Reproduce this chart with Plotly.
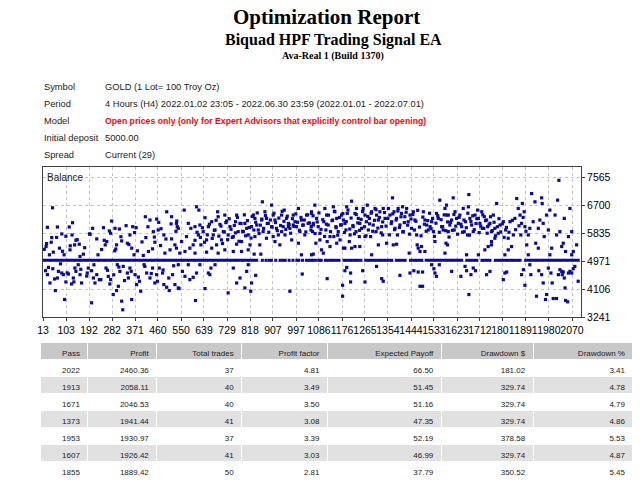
import plotly.graph_objects as go

# the page body keeps its default 8px margin, so the figure is drawn 8px smaller
OFF = 8
W, H = 640 - OFF, 480 - OFF

# header / report info
TITLE = "Optimization Report"
EA_NAME = "Biquad HPF Trading Signal EA"
SERVER = "Ava-Real 1 (Build 1370)"
info_labels = ["Symbol", "Period", "Model", "Initial deposit", "Spread"]
info_values = [
    "GOLD (1 Lot= 100 Troy Oz)",
    "4 Hours (H4) 2022.01.02 23:05 - 2022.06.30 23:59 (2022.01.01 - 2022.07.01)",
    "Open prices only (only for Expert Advisors that explicitly control bar opening)",
    "5000.00",
    "Current (29)",
]

# balance per optimisation pass
pass_a_hi = [50, 30, 69, 128, 115, 47, 27, 25, 86, 102, 126, 141, 136, 154, 170, 157, 118, 95, 77, 53,
             38, 206, 196, 248, 222, 280, 293, 310, 276, 261, 241, 255, 299, 319, 292, 336, 362, 375, 351, 341,
             358, 380, 367, 411, 429, 455, 463, 413, 442, 461, 448, 470, 439, 423, 403, 494, 513, 533, 535, 483,
             513, 526, 507, 487]
bal_a_hi = [6628, 6023, 6033, 6166, 6033, 5704, 5519, 5427, 5817, 5745, 5786, 5622, 5478, 5499, 5191, 5119, 5324, 5170, 5376, 5252,
            5170, 5992, 5807, 6012, 5663, 6218, 5992, 5971, 5838, 5581, 5335, 5478, 5478, 5601, 5293, 6074, 6043, 6012, 5786, 5530,
            5376, 5293, 5170, 6351, 6249, 6279, 6177, 5704, 5889, 5940, 5560, 5458, 5355, 5273, 5150, 6505, 6351, 6218, 6043, 5786,
            5663, 5478, 5324, 5222]
pass_a_lo = [23, 30, 40, 61, 51, 73, 86, 92, 69, 102, 112, 124, 131, 141, 150, 157, 163, 97, 137, 189,
             185, 202, 209, 222, 232, 215, 202, 258, 267, 273, 276, 286, 299, 306, 302, 312, 325, 319, 323, 341,
             351, 345, 358, 371, 377, 388, 393, 406, 416, 429, 439, 448, 455, 465, 478, 483, 494, 504, 517, 526, 539]
bal_a_lo = [4677, 4554, 4297, 4061, 4739, 4657, 4605, 4554, 4451, 4328, 4574, 4266, 4451, 4657, 4862, 4554, 4297, 3784, 4759, 4759,
            4605, 4677, 4451, 4554, 4400, 4297, 3681, 4759, 4502, 4266, 4400, 3938, 4061, 4194, 4862, 4657, 4811, 3732, 3465, 4605,
            4759, 4451, 3784, 4554, 4246, 4349, 4040, 4862, 4605, 4451, 4759, 4297, 4554, 4759, 4605, 4246, 4164, 4061, 4554, 4246, 4143]
pass_a_mid = [18, 34, 45, 58, 66, 81, 89, 107, 119, 133, 146, 160, 175, 183, 194, 211, 227, 238, 251, 264,
              271, 288, 296, 308, 316, 330, 347, 356, 369, 384, 398, 409, 421, 434, 446, 458, 472, 480, 491, 502,
              511, 521, 530]
bal_a_mid = [5340, 4780, 5560, 4420, 5710, 4890, 5280, 4610, 5450, 4330, 5640, 4720, 5390, 4510, 5820, 4860, 5170, 4400, 5620, 4690,
             5910, 4550, 5350, 4790, 5730, 4370, 5490, 4660, 5860, 4480, 5570, 4810, 6040, 4590, 5720, 4350, 5980, 4700, 5660, 4450,
             6130, 4830, 5900]

pass_b_hi = [562, 610, 619, 532, 539, 578, 588, 571, 552, 604, 623, 643, 656, 636, 617, 597, 584, 627, 649, 669,
             682, 675, 692, 694, 701, 714, 707, 688, 720, 727, 740, 733, 753, 766, 762, 779, 772, 785, 766, 798,
             805, 792, 811, 831, 837, 824, 844, 850, 837, 818, 856, 866, 876, 882, 889, 863, 902, 908, 915, 902,
             921, 928, 908, 941, 951, 960, 967, 947, 973, 954, 980, 986, 993, 1006, 999, 1012, 1018, 1025, 1031, 1038,
             1044, 1057, 1055, 1064, 986, 967, 941, 1006, 934, 915, 882, 869, 811, 785, 753, 720, 694, 669, 649, 604,
             565, 545, 532, 1018, 1057, 834, 860]
bal_b_hi = [6557, 6659, 6557, 6146, 5992, 6146, 5992, 5735, 5581, 6043, 6094, 6320, 6043, 5889, 5786, 5478, 5376, 5478, 5632, 6197,
            5940, 5786, 6505, 6351, 6115, 5889, 5632, 5478, 6403, 6218, 6043, 5786, 5735, 6403, 6197, 6146, 5889, 5581, 5499, 6146,
            5992, 5889, 5786, 6403, 6300, 6043, 6094, 5940, 5735, 5478, 5478, 6813, 6505, 6300, 6146, 6249, 6711, 6403, 6249, 6043,
            5992, 5786, 5735, 6403, 6557, 6300, 6146, 6043, 5992, 5786, 5632, 6403, 6197, 6608, 6043, 5889, 6249, 6094, 5786, 6403,
            6146, 6505, 5940, 6094, 6094, 6043, 5889, 5530, 5478, 5581, 5684, 5889, 5324, 5273, 5273, 5324, 5222, 5376, 5252, 5222,
            5273, 5222, 5376, 5170, 5170, 5191, 5191]
pass_b_lo = [539, 555, 565, 584, 597, 610, 606, 578, 623, 542, 643, 656, 666, 662, 682, 733, 753, 766, 779, 798,
             805, 821, 824, 840, 811, 973, 1021]
bal_b_lo = [4862, 4657, 4503, 4400, 4472, 4605, 3753, 4862, 4862, 4123, 4123, 4605, 4759, 4554, 4862, 3989, 4759, 4297, 4451, 4143,
            4657, 4040, 4297, 4533, 4862, 4040, 4574]
pass_b_mid = [604, 612, 625, 633, 641, 652, 660, 671, 679, 686, 697, 705, 711, 718, 724, 731, 737, 744, 749, 757,
              761, 769, 775, 783, 789, 796, 801, 808, 815, 822, 827, 833, 840, 846, 853, 858, 864, 871, 878, 885,
              891, 897, 904, 911, 917, 924, 930, 937, 943, 950, 957, 963, 970, 976, 983, 989, 996, 1003, 1010, 1016,
              1023, 1029, 1035, 1042, 1049]
bal_b_mid = [5620, 5870, 5710, 6010, 5560, 5790, 6120, 5680, 5930, 6240, 5750, 6060, 5520, 5880, 6170, 5640, 6290, 5960, 5710, 6080,
             5850, 6330, 5590, 6140, 5900, 6410, 5760, 6230, 6020, 5690, 6360, 5940, 6180, 6470, 5830, 6090, 6280, 5990, 6390, 6140,
             5870, 6250, 6030, 6460, 6170, 5920, 6310, 6080, 6520, 6210, 5960, 6370, 6110, 5840, 6290, 6050, 6440, 6180, 5930, 6330,
             6090, 6250, 5880, 6410, 6160]

pass_c_hi = [1070, 1057, 1077, 1064, 1083, 1061, 1090, 1074, 1096, 1103, 1109, 1116, 1105, 1122, 1113, 1129, 1118, 1142, 1148, 1139,
             1155, 1152, 1161, 1144, 1168, 1174, 1181, 1187, 1170, 1194, 1196, 1191, 1181, 1207, 1213, 1219, 1204, 1226, 1232, 1239,
             1245, 1230, 1252, 1243, 1226, 1245, 1258, 1265, 1274, 1271, 1282, 1291, 1278, 1287, 1297, 1304, 1310, 1317, 1308, 1323,
             1330, 1336, 1343, 1334, 1349, 1356, 1362, 1372, 1369, 1378, 1382, 1388, 1394, 1391, 1401, 1407, 1414, 1411, 1420, 1427,
             1433, 1440, 1446, 1453, 1459, 1466, 1468, 1472, 1479, 1492, 1498, 1505, 1511, 1518, 1524, 1531, 1537, 1543, 1550, 1556,
             1563, 1569, 1576, 1583, 1589, 1580, 1485, 1498, 1375, 1388, 1291, 1317, 1265, 1213, 1187, 1155, 1129, 1090, 1064, 1437]
bal_c_hi = [6711, 6454, 6300, 6146, 6043, 5889, 5838, 5530, 5324, 5222, 6608, 6403, 6197, 6094, 5940, 5735, 5581, 6659, 6505, 6249,
            6300, 6043, 5889, 5735, 5632, 6403, 6249, 6146, 6094, 6659, 6454, 5940, 5376, 5786, 6834, 6043, 5581, 6454, 6608, 6300,
            6146, 5889, 5992, 5735, 5427, 5427, 6608, 6403, 6711, 6197, 6300, 6505, 5940, 5735, 6094, 6608, 6403, 6249, 5889, 6505,
            6043, 6608, 6300, 5786, 5530, 6608, 6403, 6937, 6197, 6505, 5992, 6300, 6608, 5786, 6094, 6454, 5889, 6659, 6351, 6608,
            6197, 6403, 5992, 6505, 6249, 5786, 5478, 5376, 5273, 6505, 6249, 6094, 5940, 6043, 6197, 5889, 5581, 6454, 6300, 6865,
            6043, 5940, 6608, 6403, 5889, 5530, 5427, 5273, 5478, 5499, 5170, 5478, 5735, 5376, 5376, 5530, 5427, 5632, 5191, 5222]
pass_c_lo = [1118, 1178, 1178, 1187, 1194, 1209, 1209, 1256, 1265, 1310, 1330, 1336, 1401, 1440, 1455, 1472, 1479, 1489, 1489, 1524,
             1533, 1537, 1543, 1554]
bal_c_lo = [4431, 4225, 3886, 4677, 4780, 4605, 4328, 4677, 4328, 4811, 4431, 4349, 4533, 4605, 4677, 4636, 4194, 4194, 4636, 4862,
            4739, 4605, 4503, 4862]
pass_c_mid = [1056, 1063, 1071, 1079, 1086, 1094, 1101, 1108, 1115, 1123, 1131, 1137, 1146, 1153, 1159, 1166, 1173, 1179, 1185, 1192,
              1199, 1206, 1211, 1218, 1224, 1231, 1237, 1244, 1250, 1256, 1263, 1269, 1276, 1283, 1289, 1295, 1302, 1308, 1315, 1321,
              1328, 1334, 1341, 1347, 1354, 1360, 1367, 1373, 1380, 1386, 1393, 1399, 1405, 1412, 1418, 1425, 1431, 1438, 1444, 1451,
              1457, 1463, 1470, 1477, 1483, 1490, 1496, 1503, 1509, 1516, 1522, 1528, 1535, 1541, 1548, 1554, 1561, 1567, 1573, 1579,
              1586, 1592]
bal_c_mid = [6050, 6380, 5830, 6190, 6470, 5960, 6260, 5740, 6120, 6400, 5890, 6230, 6520, 6010, 5780, 6330, 6100, 6450, 5860, 6200,
             6560, 5970, 6310, 6080, 5820, 6420, 6160, 5930, 6270, 6510, 6040, 5760, 6360, 6130, 6460, 5900, 6240, 6570, 6000, 6330,
             5850, 6190, 6480, 6060, 6300, 5790, 6140, 6440, 5950, 6250, 6530, 6020, 6350, 5880, 6170, 6490, 6090, 5810, 6280, 6420,
             5940, 6210, 6550, 6030, 5760, 6340, 6120, 5900, 6230, 6460, 5980, 6300, 5740, 6150, 6380, 5870, 6260, 6040, 6410, 5920,
             6190, 5720]

pass_d_hi = [1582, 1608, 1589, 1602, 1595, 1615, 1621, 1628, 1612, 1634, 1641, 1647, 1651, 1656, 1667, 1669, 1673, 1680, 1664, 1686,
             1693, 1703, 1706, 1712, 1719, 1721, 1729, 1738, 1742, 1751, 1757, 1764, 1770, 1777, 1783, 1790, 1744, 1757, 1770, 1803,
             1812, 1822, 1829, 1835, 1842, 1855, 1848, 1861, 1868, 1874, 1877, 1884, 1887, 1871, 1894, 1900, 1906, 1913, 1919, 1926,
             1929, 1939, 1945, 1952, 1958, 1954, 1962, 1971, 1978, 1984, 1991, 2004, 2010, 2014, 2019, 2023, 2030, 2040, 2045, 2056,
             2062, 2069, 2075, 2088, 2069, 1984, 1900, 1809, 1706, 1660, 1731, 1822, 1939, 2036, 1757, 1586, 1576]
bal_d_hi = [6711, 6937, 6403, 6249, 6094, 6505, 6300, 6146, 5940, 6403, 6043, 6608, 5889, 6197, 6659, 7039, 6300, 6094, 5786, 5889,
            6403, 6557, 6300, 6146, 6505, 5992, 6351, 6249, 6043, 6146, 5889, 6403, 5992, 6762, 5838, 6094, 5427, 5478, 5684, 6197,
            5940, 5684, 6197, 5427, 5786, 6916, 6300, 6608, 6403, 6146, 6762, 6505, 6043, 5786, 5478, 5786, 5992, 7070, 6197, 6813,
            5530, 5992, 6249, 6937, 6146, 6762, 5735, 6403, 5940, 6557, 5376, 6403, 5786, 6865, 7481, 5889, 5427, 6300, 5273, 5735,
            6608, 5889, 5273, 5478, 5170, 5170, 5170, 5170, 5170, 5170, 5324, 5324, 5376, 5530, 5581, 5478, 5222]
pass_d_lo = [1602, 1638, 1654, 1660, 1669, 1677, 1686, 1695, 1738, 1751, 1803, 1809, 1816, 1881, 1887, 1874, 1906, 1910, 1932, 1941,
             1952, 1958, 1967, 1971, 1978, 1988, 1993, 1997, 2010, 2017, 2023, 2030, 2032, 2036, 2040, 2043, 2045, 2053, 2056, 2062,
             2069, 2081, 2094, 2075]
bal_d_lo = [4657, 4503, 4811, 4677, 3938, 4554, 4759, 4677, 4554, 4657, 4400, 4605, 4636, 4708, 4225, 4554, 4862, 4554, 3886, 4677,
            4554, 4297, 3784, 3938, 4759, 4605, 4297, 3814, 3814, 4554, 4708, 4657, 4554, 4636, 4451, 4143, 3753, 3712, 4605, 4657,
            4605, 4811, 4349, 4739]
pass_d_mid = [1598, 1605, 1611, 1618, 1625, 1631, 1638, 1644, 1650, 1659, 1665, 1671, 1677, 1684, 1690, 1697, 1700, 1709, 1715, 1723,
              1727, 1734, 1740, 1747, 1753, 1760, 1767, 1773, 1780, 1786, 1793, 1799, 1806, 1815, 1825, 1838, 1851, 1864, 1880, 1891]
bal_d_mid = [6180, 5930, 6420, 6060, 5810, 6330, 6120, 5870, 6250, 6010, 6460, 5780, 6200, 6380, 5950, 6140, 6290, 5860, 6060, 6410,
             5990, 6230, 5840, 6100, 6350, 5920, 6180, 5760, 6040, 6290, 5880, 6130, 5710, 6020, 5870, 6240, 5950, 6070, 6330, 5900]

# passes that ended flat at the initial deposit
DEPOSIT = 5000
flat_runs = [(13, 850), (1105, 1170), (1178, 1255), (1262, 1375), (1381, 1427), (1436, 1492),
             (1497, 1647), (1655, 1706), (1714, 1757), (1766, 1874), (1884, 2100)]
flat_dots = [866, 880, 892, 901, 918, 935, 945, 955, 970, 985, 1000, 1008, 1022, 1037, 1047,
             1057, 1064, 1075, 1086, 1095]

x_ticks = [13, 103, 192, 282, 371, 460, 550, 639, 729, 818, 907, 997, 1086, 1176, 1265, 1354,
           1444, 1533, 1623, 1712, 1801, 1891, 1980, 2070]
y_ticks = [3241, 4106, 4971, 5835, 6700, 7565]

# top passes table
col_names = ["Pass", "Profit", "Total trades", "Profit factor", "Expected Payoff", "Drawdown $", "Drawdown %"]
pass_ids = ["2022", "1913", "1671", "1373", "1953", "1607", "1855"]
profits = ["2460.36", "2058.11", "2046.53", "1941.44", "1930.97", "1926.42", "1889.42"]
total_trades = ["37", "40", "40", "41", "37", "41", "50"]
profit_factor = ["4.81", "3.49", "3.50", "3.08", "3.39", "3.03", "2.81"]
exp_payoff = ["66.50", "51.45", "51.16", "47.35", "52.19", "46.99", "37.79"]
dd_money = ["181.02", "329.74", "329.74", "329.74", "378.58", "329.74", "350.52"]
dd_pct = ["3.41", "4.78", "4.79", "4.86", "5.53", "4.87", "5.45"]

DOT = "#0a0a9e"
SANS = "Liberation Sans, Arial, sans-serif"
SERIF = "Liberation Serif, Times New Roman, serif"


def px(x):
    # screen x (pixels) -> paper fraction
    return (x - OFF) / W


def py(y):
    # screen y (pixels from top) -> paper fraction
    return 1 - (y - OFF) / H


fig = go.Figure()

# flat line at the deposit level
fx, fy = [], []
for s, e in flat_runs:
    fx += [s, e, None]
    fy += [DEPOSIT, DEPOSIT, None]
fig.add_trace(go.Scatter(x=fx, y=fy, mode="lines", line=dict(color=DOT, width=3),
                         hoverinfo="skip", showlegend=False))
fig.add_trace(go.Scatter(x=flat_dots, y=[DEPOSIT] * len(flat_dots), mode="markers",
                         marker=dict(symbol="square", size=3, color=DOT, line=dict(width=0)),
                         showlegend=False))

all_pass = (pass_a_hi + pass_a_lo + pass_a_mid + pass_b_hi + pass_b_lo + pass_b_mid
            + pass_c_hi + pass_c_lo + pass_c_mid + pass_d_hi + pass_d_lo + pass_d_mid)
all_bal = (bal_a_hi + bal_a_lo + bal_a_mid + bal_b_hi + bal_b_lo + bal_b_mid
           + bal_c_hi + bal_c_lo + bal_c_mid + bal_d_hi + bal_d_lo + bal_d_mid)
fig.add_trace(go.Scatter(x=all_pass, y=all_bal, mode="markers",
                         marker=dict(symbol="square", size=3.2, color=DOT, line=dict(width=0)),
                         showlegend=False))

# results table
n = len(pass_ids)
row_fill = ["white" if i % 2 == 0 else "#e1e1e1" for i in range(n)]
fig.add_trace(go.Table(
    domain=dict(x=[px(40), px(634)], y=[0, py(342)]),
    columnwidth=[48, 69, 85, 86, 114, 92, 100],
    header=dict(values=col_names, fill_color="#c8c8c8", align="right", height=17,
                line=dict(color="white", width=1),
                font=dict(family=SANS, size=8, color="#222")),
    cells=dict(values=[pass_ids, profits, total_trades, profit_factor, exp_payoff, dd_money, dd_pct],
               fill_color=[row_fill] * len(col_names), align="right", height=17,
               line=dict(color="white", width=1),
               font=dict(family=SANS, size=8, color="#222")),
))

axis_style = dict(showgrid=True, gridcolor="#c4c4c4", griddash="dot", gridwidth=1,
                  showline=True, mirror=True, linecolor="#404040", linewidth=1,
                  ticks="outside", ticklen=3, tickcolor="#404040", zeroline=False,
                  automargin=False,
                  tickfont=dict(family=SANS, size=10.5, color="black"))

fig.update_layout(
    width=W, height=H,
    margin=dict(l=0, r=0, t=0, b=0),
    paper_bgcolor="white", plot_bgcolor="white",
    showlegend=False,
    xaxis=dict(domain=[px(43), px(581)], range=[13, 2105], tickvals=x_ticks,
               tickangle=0, **axis_style),
    yaxis=dict(domain=[py(317), py(167)], range=[3241, 7894], tickvals=y_ticks,
               side="right", **axis_style),
)


def note(x, y, text, font, anchor="center"):
    fig.add_annotation(x=px(x), y=py(y), xref="paper", yref="paper", text=text,
                       showarrow=False, xanchor=anchor, yanchor="middle", font=font)


# header texts
note(326, 17, f"<b>{TITLE}</b>", dict(family=SERIF, size=21, color="black"))
note(333, 40, f"<b>{EA_NAME}</b>", dict(family=SERIF, size=16, color="black"))
note(333, 56, f"<b>{SERVER}</b>", dict(family=SERIF, size=10, color="black"))

for i, (lab, val) in enumerate(zip(info_labels, info_values)):
    yy = 87 + i * 17
    note(42, yy, lab, dict(family=SANS, size=9.3, color="#222"), "left")
    if lab == "Model":
        note(103, yy, f"<b>{val}</b>", dict(family=SANS, size=8.7, color="#ff0000"), "left")
    else:
        note(103, yy, val, dict(family=SANS, size=9.3, color="#222"), "left")

note(45, 178, "Balance", dict(family=SANS, size=10, color="#222"), "left")

fig.write_html("out.html")
